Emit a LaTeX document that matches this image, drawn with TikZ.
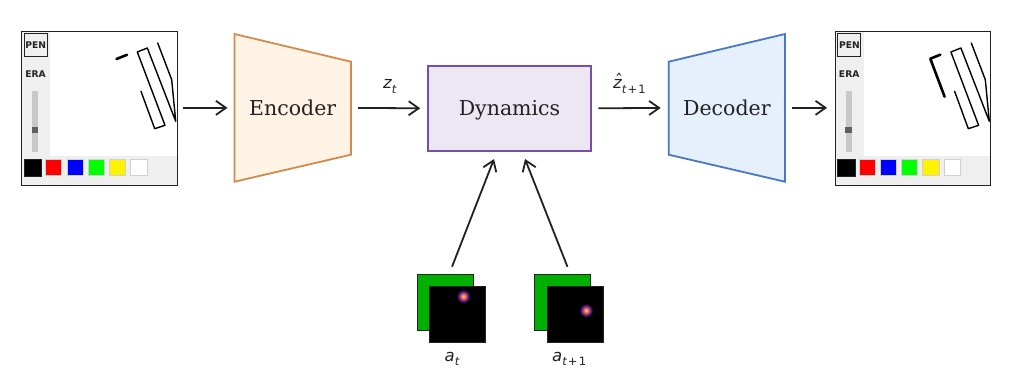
\documentclass[tikz,border=0pt]{standalone}
\usepackage{fontspec}
\setmainfont{DejaVu Serif}
\newfontfamily\labelfont{DejaVu Sans}
\usetikzlibrary{arrows.meta,calc}

\definecolor{inkdark}{HTML}{222222}
\definecolor{encfill}{HTML}{FFF3E5}
\definecolor{encedge}{HTML}{D08C4A}
\definecolor{dynfill}{HTML}{EDE7F4}
\definecolor{dynedge}{HTML}{7B4DAA}
\definecolor{decfill}{HTML}{E6F0FD}
\definecolor{decedge}{HTML}{4878BF}
\definecolor{chrome}{HTML}{EFEFEF}
\definecolor{slidertrack}{HTML}{C8C8C8}
\definecolor{sliderknob}{HTML}{606060}
\definecolor{swatchedge}{HTML}{D0D0D0}
\definecolor{mapgreen}{HTML}{00B000}
\definecolor{glowa}{HTML}{FCEB96}
\definecolor{glowb}{HTML}{FBAA46}
\definecolor{glowc}{HTML}{E1556E}
\definecolor{glowd}{HTML}{8C2D82}
\definecolor{glowe}{HTML}{3C1464}

% Heat-map spot on the action maps
\pgfdeclareradialshading{glowspot}{\pgfpoint{0bp}{0bp}}{%
  color(0bp)=(glowa);
  color(4bp)=(glowb);
  color(9bp)=(glowc);
  color(14bp)=(glowd);
  color(19bp)=(glowe);
  color(25bp)=(black);
  color(50bp)=(black)}

\newcommand{\subtext}[1]{\raisebox{-.28em}{\fontsize{11.5pt}{12pt}\selectfont #1}}
\newcommand{\hatted}[1]{\rlap{\hspace{.1em}\raisebox{.13em}{\upshape\symbol{"02C6}}}#1}

\tikzset{
  flow/.style={draw=inkdark,line width=1.8pt,-{Straight Barb[length=10pt,width=14pt,line width=1.8pt]}},
  block/.style={inner sep=0pt,outer sep=0pt,text=inkdark,text depth=0pt,font=\fontsize{20.5pt}{24pt}\selectfont},
  mathlabel/.style={inner sep=0pt,anchor=base west,text=inkdark,font=\labelfont\itshape\fontsize{16.5pt}{18pt}\selectfont},
  uitext/.style={inner sep=0pt,text=inkdark,font=\labelfont\bfseries\fontsize{9.2pt}{10pt}\selectfont},
  panelframe/.style={draw=inkdark,line width=.9pt,inner sep=0pt,outer sep=0pt,minimum width=155.5pt,minimum height=153.5pt},
  penbutton/.style={draw=inkdark,line width=1.1pt,inner sep=0pt,minimum width=23pt,minimum height=22.5pt,uitext},
  penstroke/.style={draw=black,line width=1.4pt,line join=round,line cap=round},
  inkstroke/.style={draw=black,line width=2.6pt,line join=round,line cap=round},
  swatch/.style={line width=1pt,draw=swatchedge},
  outline/.style={line width=1.8pt,line join=miter},
  greenmap/.style={draw=inkdark,fill=mapgreen,line width=.8pt,inner sep=0pt,outer sep=0pt,minimum width=56pt,minimum height=55.5pt},
  darkmap/.style={draw=inkdark,fill=black,line width=.8pt,inner sep=0pt,outer sep=0pt,minimum width=56pt,minimum height=56pt},
}

% Drawing-app window: side bar, palette, slider and the strokes common to both frames
\newcommand{\uipanel}[1]{%
  \fill[white] (21.5,31.5) rectangle (177,185);
  \fill[chrome] (21.5,31.5) rectangle (50,185);
  \fill[chrome] (21.5,155.7) rectangle (177,185);
  \fill[slidertrack] (32,90.7) rectangle (38.2,151.5);
  \fill[sliderknob] (31.7,126.7) rectangle (38.2,133);
  \filldraw[fill=black,draw=inkdark,line width=.8pt] (24,159) rectangle (41.5,176.5);
  \filldraw[swatch,fill=red] (45.5,159.5) rectangle (61.8,175.8);
  \filldraw[swatch,fill=blue] (67,159.5) rectangle (83.3,175.8);
  \filldraw[swatch,fill=green] (88,159.5) rectangle (104.3,175.8);
  \filldraw[swatch,fill=yellow] (109,159.5) rectangle (125.5,175.8);
  \filldraw[swatch,fill=white] (130.5,159.5) rectangle (147.2,175.8);
  \draw[penstroke] (141,91.3) -- (154.7,128.7) -- (165,125.3) -- (137.3,52) -- (147.3,48) -- (175.7,121.3) -- (171.7,79.7) -- (157.7,43);
  \node[panelframe] (#1) at (99.25,108.25) {};
  \node[penbutton] (#1pen) at (35.8,44.8) {PEN};
  \node[uitext] (#1era) at (35.6,74) {ERA};
}

\begin{document}
\begin{tikzpicture}[x=1pt,y=-1pt]
  \useasboundingbox (0,0) rectangle (1019,376);
  \fill[white] (0,0) rectangle (1019,376);

  % Input and output frames
  \begin{scope}
    \uipanel{framein}
    \draw[inkstroke] (116.5,59) -- (127,54.8);
  \end{scope}
  \begin{scope}[xshift=813.6pt]
    \uipanel{frameout}
    \draw[inkstroke] (126.7,54.7) -- (116.7,58.7) -- (131,96.7);
  \end{scope}

  % Encoder, dynamics and decoder blocks
  \filldraw[outline,fill=encfill,draw=encedge]
    (234.5,34) -- (351,61.7) -- (351,154.7) -- (234.5,181.7) -- cycle;
  \node[block,minimum width=116.5pt,minimum height=147.7pt] (encoder) at (292.75,107.85) {Encoder};

  \node[block,outline,draw=dynedge,fill=dynfill,minimum width=163.5pt,minimum height=85.3pt] (dynamics) at (509.5,108.35) {Dynamics};

  \filldraw[outline,fill=decfill,draw=decedge]
    (668.7,61.7) -- (785,34) -- (785,181.7) -- (668.7,154.7) -- cycle;
  \node[block,minimum width=116.3pt,minimum height=147.7pt] (decoder) at (726.85,107.85) {Decoder};

  % Action map stacks
  \node[greenmap] (greenA) at (445.3,302.5) {};
  \node[darkmap] (mapA) at (457.3,314.3) {};
  \shade[shading=glowspot] (463.3,296.3) circle (7);
  \node[greenmap] (greenB) at (562.7,302.5) {};
  \node[darkmap] (mapB) at (575.3,314.3) {};
  \shade[shading=glowspot] (586,310.3) circle (7);

  % Main data flow
  \draw[flow,shorten <=6pt,shorten >=7pt] (framein.east |- encoder.west) -- (encoder.west);
  \draw[flow,shorten <=7pt,shorten >=7.5pt] (encoder.east) -- (dynamics.west);
  \draw[flow,shorten <=7pt,shorten >=8pt] (dynamics.east) -- (decoder.west);
  \draw[flow,shorten <=7pt,shorten >=8pt] (decoder.east) -- (frameout.west |- decoder.east);

  % Actions feeding the dynamics block
  \draw[flow,shorten <=8.6pt,shorten >=8.6pt] ([xshift=3.6pt]greenA.north) -- ([xshift=-12.4pt]dynamics.south);
  \draw[flow,shorten <=8.6pt,shorten >=8.6pt] ([xshift=7.9pt]greenB.north) -- ([xshift=12.35pt]dynamics.south);

  % Labels
  \node[mathlabel] (labelz) at (383,88.5) {z\subtext{t}};
  \node[mathlabel] (labelzhat) at (613,88.5) {\hatted{z}\subtext{t\kern.1em\upshape+\kern.1em1}};
  \node[mathlabel] (labela) at (444.5,361) {a\subtext{t}};
  \node[mathlabel] (labelb) at (552,361) {a\subtext{t\kern.1em\upshape+\kern.1em1}};
\end{tikzpicture}
\end{document}
